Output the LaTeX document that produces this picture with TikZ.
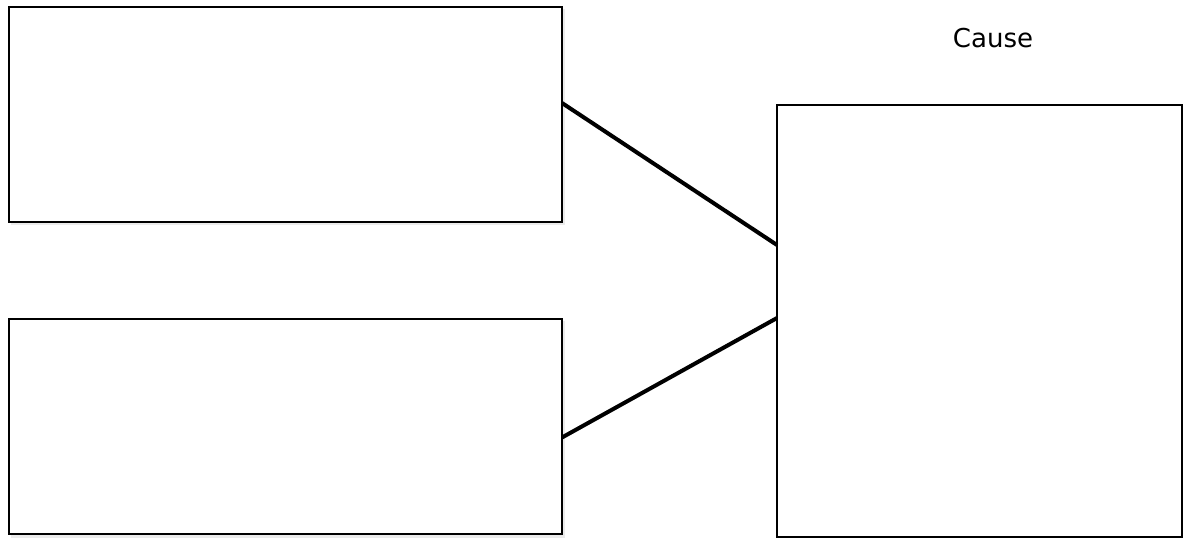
\documentclass[tikz,border=0pt]{standalone}
\usepackage{fontspec}
\setmainfont{DejaVu Sans}
\begin{document}
\begin{tikzpicture}[x=1pt,y=-1pt,
  box/.style={draw=black,line width=2pt,fill=white},
  link/.style={draw=black,line width=4pt},
  shade/.style={fill=black!8}]
\useasboundingbox (0,0) rectangle (1183,538);
\fill[white] (0,0) rectangle (1183,538);
% shadows
\fill[shade] (11,9) rectangle (565,225);
\fill[shade] (11,321) rectangle (565,538);
\fill[shade] (780,108) rectangle (1183,538);
% boxes
\path[box] (8.5,6.5) rectangle (561.5,221.5);
\path[box] (8.5,318.5) rectangle (561.5,534);
\path[box] (777,105) rectangle (1181.5,536.5);
\coordinate (a1) at (562,103);
\coordinate (b1) at (777,245);
\coordinate (a2) at (562,437.5);
\coordinate (b2) at (777,318);
\draw[link] (a1) -- (b1);
\draw[link] (a2) -- (b2);
\node[font=\fontsize{26}{30}\selectfont,inner sep=0pt,anchor=base] (cause) at (993,47) {Cause};
\end{tikzpicture}
\end{document}
